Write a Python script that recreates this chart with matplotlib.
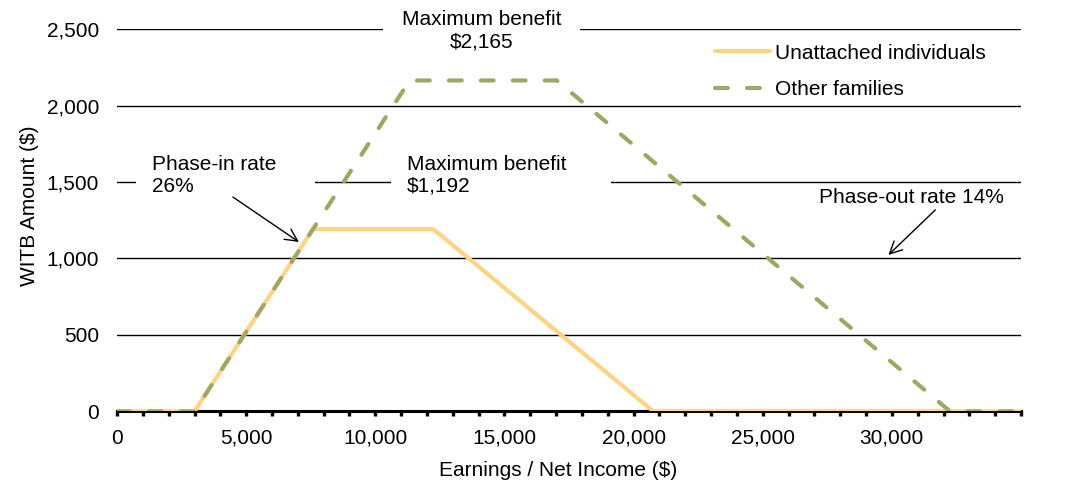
import matplotlib
matplotlib.use("Agg")
import matplotlib.pyplot as plt
from matplotlib.ticker import FuncFormatter, MultipleLocator, FixedLocator

plt.rcParams['font.family'] = ['Liberation Sans', 'DejaVu Sans']
plt.rcParams['font.size'] = 15

# breakpoints (earnings $, WITB $)
earn_ind = [0, 3000, 7585, 12250, 20760, 35000]
witb_ind = [0, 0, 1192, 1192, 0, 0]
earn_fam = [0, 3000, 11330, 17025, 32250, 35000]
witb_fam = [0, 0, 2165, 2165, 0, 0]
x_labels = [0, 5000, 10000, 15000, 20000, 25000, 30000]

yellow = '#FFD37F'
green = '#A1A760'

fig = plt.figure(figsize=(10.68, 4.88), dpi=100)
ax = fig.add_axes([0.1096, 0.1572, 0.8464, 0.7828])

ax.plot(earn_ind, witb_ind, color=yellow, lw=3, solid_capstyle='round',
        label='Unattached individuals', zorder=4)
ax.plot(earn_fam, witb_fam, color=green, lw=3, dashes=(3.07, 4.6),
        dash_capstyle='round', label='Other families', zorder=5)

ax.set_xlim(0, 35000)
ax.set_ylim(0, 2500)
ax.xaxis.set_major_locator(FixedLocator(x_labels))
ax.xaxis.set_minor_locator(MultipleLocator(1000))
ax.yaxis.set_major_locator(MultipleLocator(500))
fmt = FuncFormatter(lambda v, p: f'{int(v):,}')
ax.xaxis.set_major_formatter(fmt)
ax.yaxis.set_major_formatter(fmt)

# gridlines only, no frame except the thick baseline
ax.grid(axis='y', color='black', lw=1.0, zorder=1)
ax.set_axisbelow(True)
for s in ['top', 'right', 'left']:
    ax.spines[s].set_visible(False)
ax.spines['bottom'].set_linewidth(2.2)
ax.spines['bottom'].set_zorder(3)
ax.tick_params(axis='y', length=0, pad=13)
ax.tick_params(axis='x', which='both', length=3.5, width=2.4, direction='out', pad=9)

ax.set_xlabel('Earnings / Net Income ($)')
ax.set_ylabel('WITB Amount ($)')
ax.xaxis.set_label_coords(0.488, -0.13)
ax.yaxis.set_label_coords(-0.086, 0.537)

box = dict(boxstyle='square,pad=0.75', fc='white', ec='none')
ax.text(14120, 2489, 'Maximum benefit\n$2,165', ha='center', va='center',
        multialignment='center', bbox=dict(boxstyle='square,pad=0.9', fc='white', ec='none'),
        zorder=2)
ax.text(11220, 1546, 'Maximum benefit     \n$1,192', ha='left', va='center',
        bbox=box, zorder=2)
ax.text(1354, 1546, 'Phase-in rate    \n26%', ha='left', va='center',
        bbox=box, zorder=2)
ax.text(30755, 1402, 'Phase-out rate 14%', ha='center', va='center', zorder=2)

arrow = dict(arrowstyle='->', color='black', lw=1.0, mutation_scale=22,
             shrinkA=0, shrinkB=0)
ax.annotate('', xy=(7041, 1108), xytext=(4487, 1402), arrowprops=arrow, zorder=6)
ax.annotate('', xy=(29865, 1023), xytext=(31683, 1318), arrowprops=arrow, zorder=6)

ax.legend(loc='upper left', bbox_to_anchor=(0.6615, 0.9626), frameon=False,
          borderpad=0, borderaxespad=0, handlelength=2.65, handletextpad=0.25,
          labelspacing=0.83)

fig.savefig('out.png', dpi=100)
